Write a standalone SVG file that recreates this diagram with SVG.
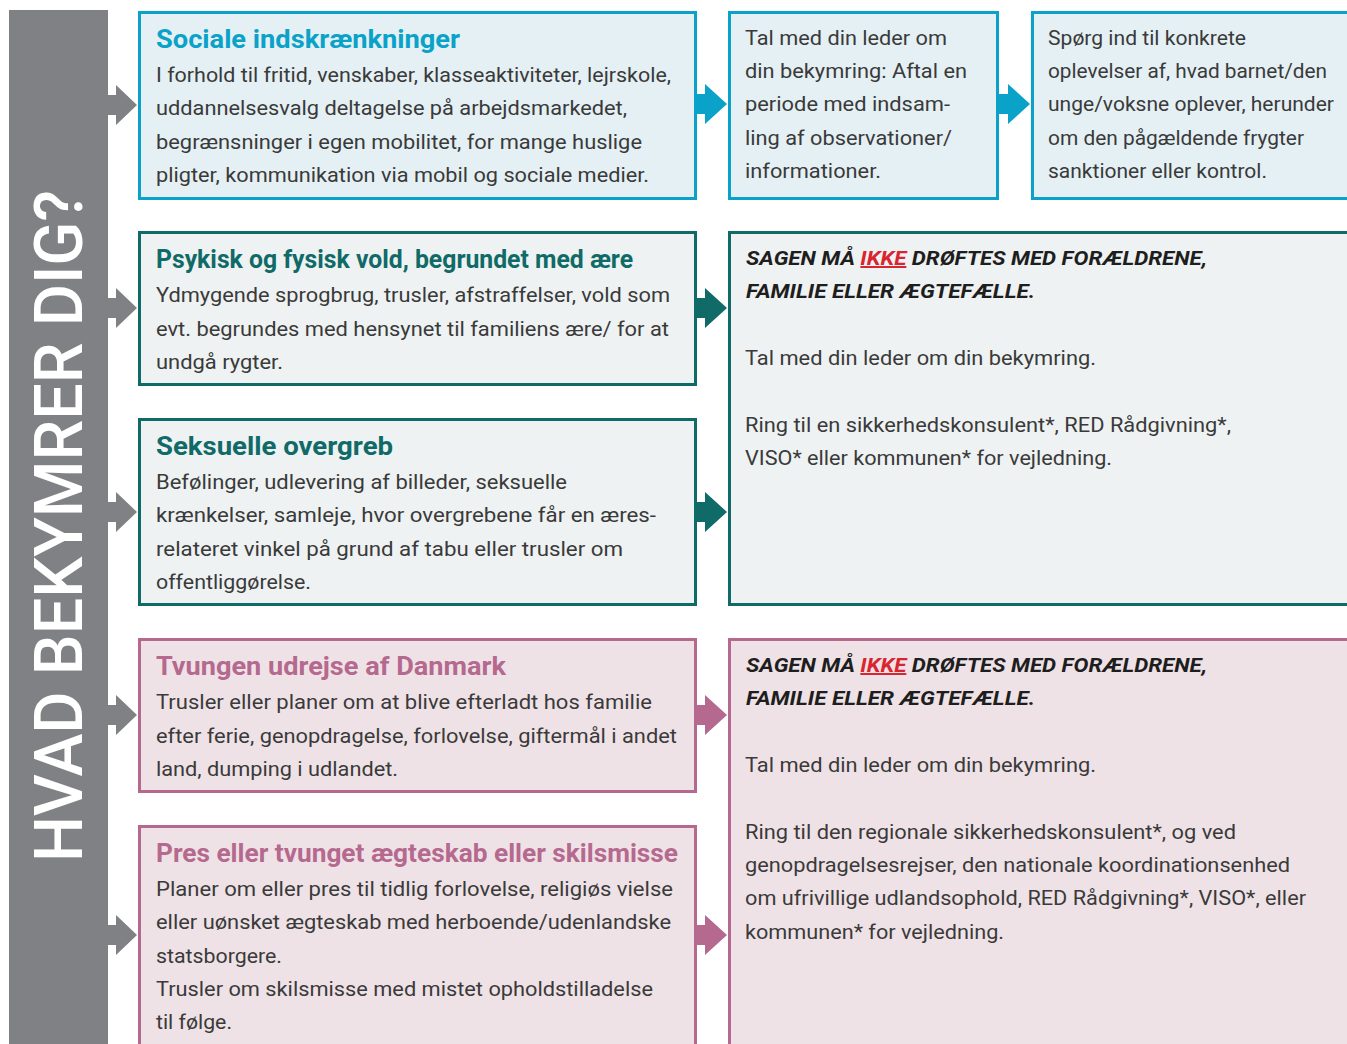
<svg xmlns="http://www.w3.org/2000/svg" width="1347" height="1044" viewBox="0 0 1347 1044">
<style>
  text { font-family: Roboto, "Liberation Sans", "DejaVu Sans", sans-serif; }
  .body { font-size: 20px; fill: #3a3a3a; }
  .title { font-size: 25px; font-weight: bold; }
  .warn { font-size: 20px; font-weight: bold; font-style: italic; fill: #1e1e1e; }
  .red { fill: #d9252f; text-decoration: underline; }
  .cyanBox { fill: #e4f0f4; stroke: #0aa2c8; stroke-width: 3; }
  .tealBox { fill: #eef2f3; stroke: #106a67; stroke-width: 3; }
  .pinkBox { fill: #efe2e6; stroke: #b5698f; stroke-width: 3; }
  .cyanT { fill: #0aa2c8; }
  .tealT { fill: #106a67; }
  .pinkT { fill: #b5698f; }
  .grayA { fill: #808184; }
  .cyanA { fill: #0aa2c8; }
  .tealA { fill: #106a67; }
  .pinkA { fill: #b5698f; }
</style>
<rect width="1347" height="1044" fill="#ffffff"/>

<g id="sidebar">
  <rect x="9" y="10" width="99" height="1040" fill="#808184"/>
  <text transform="translate(82,862) rotate(-90)" font-size="67" font-weight="500" fill="#ffffff" textLength="672" lengthAdjust="spacingAndGlyphs">HVAD BEKYMRER DIG?</text>
</g>

<g id="connectors">
  <polygon class="grayA" points="108,95 116,95 116,85 137,105 116,125 116,115 108,115"/>
  <polygon class="grayA" points="108,298 116,298 116,288 137,308 116,328 116,318 108,318"/>
  <polygon class="grayA" points="108,502 116,502 116,492 137,512 116,532 116,522 108,522"/>
  <polygon class="grayA" points="108,705 116,705 116,695 137,715 116,735 116,725 108,725"/>
  <polygon class="grayA" points="108,925 116,925 116,915 137,935 116,955 116,945 108,945"/>
  <polygon class="cyanA" points="697,94 705,94 705,84 727,104 705,124 705,114 697,114"/>
  <polygon class="cyanA" points="999,94 1008,94 1008,84 1030,104 1008,124 1008,114 999,114"/>
  <polygon class="tealA" points="697,298 705,298 705,288 727,308 705,328 705,318 697,318"/>
  <polygon class="tealA" points="697,502 705,502 705,492 727,512 705,532 705,522 697,522"/>
  <polygon class="pinkA" points="697,705 705,705 705,695 727,715 705,735 705,725 697,725"/>
  <polygon class="pinkA" points="697,925 705,925 705,915 727,935 705,955 705,945 697,945"/>
</g>

<g id="sociale">
  <rect class="cyanBox" x="139.5" y="12.5" width="556" height="186"/>
  <text class="title cyanT" x="156" y="48" textLength="304" lengthAdjust="spacingAndGlyphs">Sociale indskrænkninger</text>
  <text class="body" x="156" y="82" textLength="515" lengthAdjust="spacingAndGlyphs">I forhold til fritid, venskaber, klasseaktiviteter, lejrskole,</text>
  <text class="body" x="156" y="115" textLength="471" lengthAdjust="spacingAndGlyphs">uddannelsesvalg deltagelse på arbejdsmarkedet,</text>
  <text class="body" x="156" y="149" textLength="486" lengthAdjust="spacingAndGlyphs">begrænsninger i egen mobilitet, for mange huslige</text>
  <text class="body" x="156" y="182" textLength="493" lengthAdjust="spacingAndGlyphs">pligter, kommunikation via mobil og sociale medier.</text>
</g>

<g id="tal-med-leder">
  <rect class="cyanBox" x="729.5" y="12.5" width="268" height="186"/>
  <text class="body" x="745" y="45" textLength="202" lengthAdjust="spacingAndGlyphs">Tal med din leder om</text>
  <text class="body" x="745" y="78" textLength="222" lengthAdjust="spacingAndGlyphs">din bekymring: Aftal en</text>
  <text class="body" x="745" y="111" textLength="205" lengthAdjust="spacingAndGlyphs">periode med indsam-</text>
  <text class="body" x="745" y="145" textLength="207" lengthAdjust="spacingAndGlyphs">ling af observationer/</text>
  <text class="body" x="745" y="178" textLength="136" lengthAdjust="spacingAndGlyphs">informationer.</text>
</g>

<g id="spoerg-ind">
  <rect class="cyanBox" x="1032.5" y="12.5" width="330" height="186"/>
  <text class="body" x="1048" y="45" textLength="198" lengthAdjust="spacingAndGlyphs">Spørg ind til konkrete</text>
  <text class="body" x="1048" y="78" textLength="279" lengthAdjust="spacingAndGlyphs">oplevelser af, hvad barnet/den</text>
  <text class="body" x="1048" y="111" textLength="286" lengthAdjust="spacingAndGlyphs">unge/voksne oplever, herunder</text>
  <text class="body" x="1048" y="145" textLength="256" lengthAdjust="spacingAndGlyphs">om den pågældende frygter</text>
  <text class="body" x="1048" y="178" textLength="219" lengthAdjust="spacingAndGlyphs">sanktioner eller kontrol.</text>
</g>

<g id="psykisk-vold">
  <rect class="tealBox" x="139.5" y="232.5" width="556" height="152"/>
  <text class="title tealT" x="156" y="268" textLength="477" lengthAdjust="spacingAndGlyphs">Psykisk og fysisk vold, begrundet med ære</text>
  <text class="body" x="156" y="302" textLength="514" lengthAdjust="spacingAndGlyphs">Ydmygende sprogbrug, trusler, afstraffelser, vold som</text>
  <text class="body" x="156" y="336" textLength="513" lengthAdjust="spacingAndGlyphs">evt. begrundes med hensynet til familiens ære/ for at</text>
  <text class="body" x="156" y="369" textLength="127" lengthAdjust="spacingAndGlyphs">undgå rygter.</text>
</g>

<g id="seksuelle-overgreb">
  <rect class="tealBox" x="139.5" y="419.5" width="556" height="185"/>
  <text class="title tealT" x="156" y="455" textLength="237" lengthAdjust="spacingAndGlyphs">Seksuelle overgreb</text>
  <text class="body" x="156" y="489" textLength="411" lengthAdjust="spacingAndGlyphs">Befølinger, udlevering af billeder, seksuelle</text>
  <text class="body" x="156" y="522" textLength="500" lengthAdjust="spacingAndGlyphs">krænkelser, samleje, hvor overgrebene får en æres-</text>
  <text class="body" x="156" y="556" textLength="467" lengthAdjust="spacingAndGlyphs">relateret vinkel på grund af tabu eller trusler om</text>
  <text class="body" x="156" y="589" textLength="155" lengthAdjust="spacingAndGlyphs">offentliggørelse.</text>
</g>

<g id="teal-action">
  <rect class="tealBox" x="729.5" y="232.5" width="640" height="372"/>
  <text class="warn" x="746" y="265" textLength="461" lengthAdjust="spacingAndGlyphs">SAGEN MÅ <tspan class="red">IKKE</tspan> DRØFTES MED FORÆLDRENE,</text>
  <text class="warn" x="746" y="298" textLength="289" lengthAdjust="spacingAndGlyphs">FAMILIE ELLER ÆGTEFÆLLE.</text>
  <text class="body" x="745" y="365" textLength="351" lengthAdjust="spacingAndGlyphs">Tal med din leder om din bekymring.</text>
  <text class="body" x="745" y="432" textLength="486" lengthAdjust="spacingAndGlyphs">Ring til en sikkerhedskonsulent*, RED Rådgivning*,</text>
  <text class="body" x="745" y="465" textLength="367" lengthAdjust="spacingAndGlyphs">VISO* eller kommunen* for vejledning.</text>
</g>

<g id="tvungen-udrejse">
  <rect class="pinkBox" x="139.5" y="639.5" width="556" height="152"/>
  <text class="title pinkT" x="156" y="675" textLength="350" lengthAdjust="spacingAndGlyphs">Tvungen udrejse af Danmark</text>
  <text class="body" x="156" y="709" textLength="496" lengthAdjust="spacingAndGlyphs">Trusler eller planer om at blive efterladt hos familie</text>
  <text class="body" x="156" y="743" textLength="521" lengthAdjust="spacingAndGlyphs">efter ferie, genopdragelse, forlovelse, giftermål i andet</text>
  <text class="body" x="156" y="776" textLength="242" lengthAdjust="spacingAndGlyphs">land, dumping i udlandet.</text>
</g>

<g id="pres-aegteskab">
  <rect class="pinkBox" x="139.5" y="826.5" width="556" height="230"/>
  <text class="title pinkT" x="156" y="862" textLength="522" lengthAdjust="spacingAndGlyphs">Pres eller tvunget ægteskab eller skilsmisse</text>
  <text class="body" x="156" y="896" textLength="517" lengthAdjust="spacingAndGlyphs">Planer om eller pres til tidlig forlovelse, religiøs vielse</text>
  <text class="body" x="156" y="929" textLength="515" lengthAdjust="spacingAndGlyphs">eller uønsket ægteskab med herboende/udenlandske</text>
  <text class="body" x="156" y="963" textLength="126" lengthAdjust="spacingAndGlyphs">statsborgere.</text>
  <text class="body" x="156" y="996" textLength="497" lengthAdjust="spacingAndGlyphs">Trusler om skilsmisse med mistet opholdstilladelse</text>
  <text class="body" x="156" y="1029" textLength="76" lengthAdjust="spacingAndGlyphs">til følge.</text>
</g>

<g id="pink-action">
  <rect class="pinkBox" x="729.5" y="639.5" width="640" height="420"/>
  <text class="warn" x="746" y="672" textLength="461" lengthAdjust="spacingAndGlyphs">SAGEN MÅ <tspan class="red">IKKE</tspan> DRØFTES MED FORÆLDRENE,</text>
  <text class="warn" x="746" y="705" textLength="289" lengthAdjust="spacingAndGlyphs">FAMILIE ELLER ÆGTEFÆLLE.</text>
  <text class="body" x="745" y="772" textLength="351" lengthAdjust="spacingAndGlyphs">Tal med din leder om din bekymring.</text>
  <text class="body" x="745" y="839" textLength="491" lengthAdjust="spacingAndGlyphs">Ring til den regionale sikkerhedskonsulent*, og ved</text>
  <text class="body" x="745" y="872" textLength="545" lengthAdjust="spacingAndGlyphs">genopdragelsesrejser, den nationale koordinationsenhed</text>
  <text class="body" x="745" y="905" textLength="561" lengthAdjust="spacingAndGlyphs">om ufrivillige udlandsophold, RED Rådgivning*, VISO*, eller</text>
  <text class="body" x="745" y="939" textLength="259" lengthAdjust="spacingAndGlyphs">kommunen* for vejledning.</text>
</g>
</svg>
